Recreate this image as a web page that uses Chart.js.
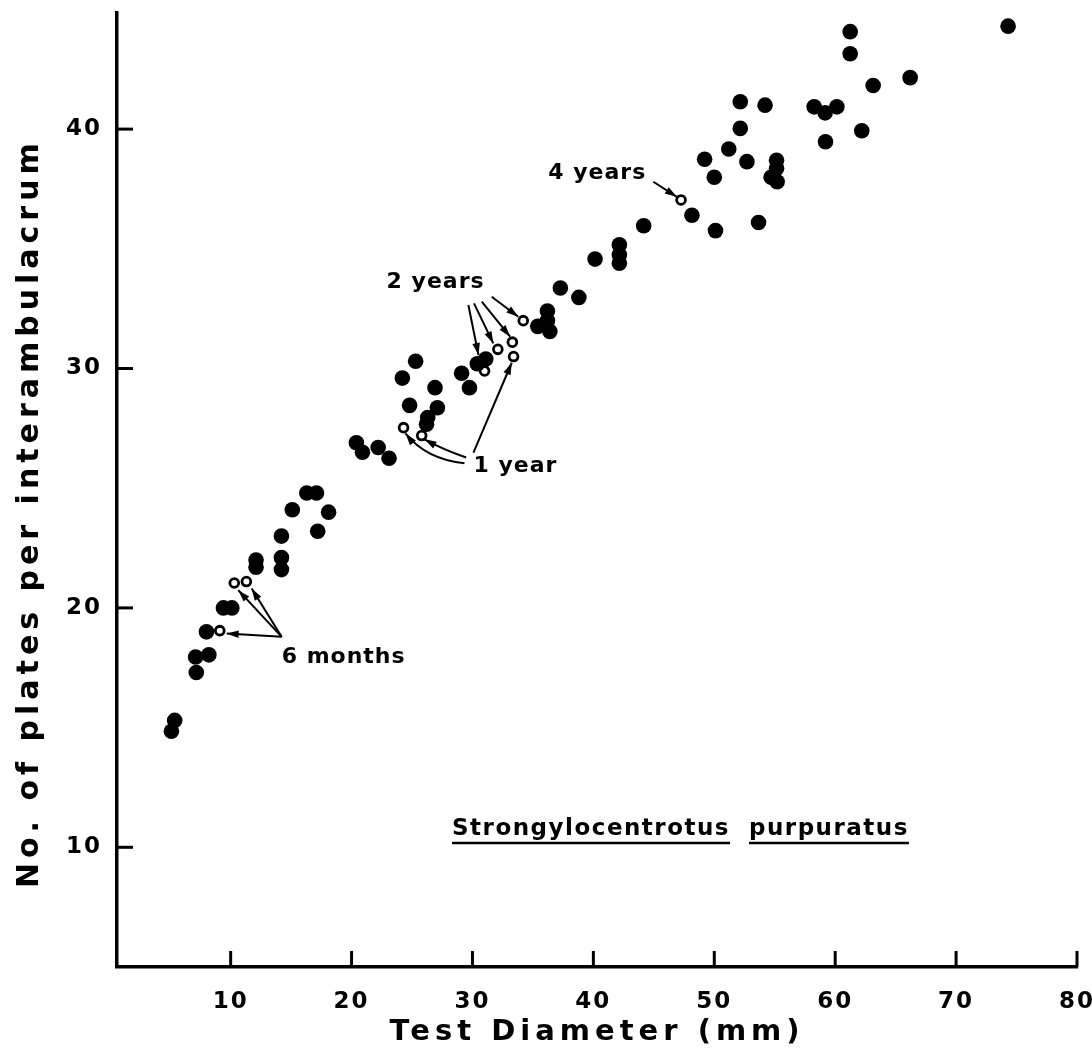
<!DOCTYPE html>
<html><head><meta charset="utf-8">
<script src="https://cdn.jsdelivr.net/npm/chart.js@4.4.1/dist/chart.umd.min.js"></script>
<style>html,body{margin:0;padding:0;background:#fff;}canvas{display:block;}</style>
</head><body>
<canvas id="c" width="1092" height="1060"></canvas>
<script>
// ---- data ----
const xTicks = [10, 20, 30, 40, 50, 60, 70, 80];
const yTicks = [10, 20, 30, 40];

const filledX = [5.1, 5.37, 7.1, 7.16, 8.2, 8.0, 9.4, 10.1, 12.1, 12.1, 14.2, 14.2, 14.2, 15.1, 16.3, 17.1, 17.2, 18.1,
  20.4, 20.9, 22.2, 23.1, 24.2, 24.8, 25.3, 26.9, 27.1, 26.3, 26.2, 29.1, 29.75, 30.4, 31.1,
  35.4, 36.2, 36.4, 36.2, 37.27, 38.8, 40.14, 42.15, 42.15, 42.15, 44.16, 48.15, 50.1, 53.66,
  49.2, 50.0, 51.2, 52.15, 54.2, 52.15, 52.7, 55.15, 55.15, 54.7, 55.2,
  58.26, 59.17, 60.14, 59.2, 62.2, 63.14, 66.2, 61.24, 61.24, 74.3];
const filledY = [14.85, 15.3, 17.95, 17.3, 18.04, 19.0, 20.0, 20.0, 22.0, 21.7, 22.1, 21.6, 23.0, 24.1, 24.8, 24.8, 23.2, 24.0,
  26.9, 26.5, 26.7, 26.25, 29.6, 28.46, 30.3, 29.2, 28.36, 27.95, 27.67, 29.8, 29.2, 30.2, 30.4,
  31.76, 32.4, 31.55, 32.0, 33.36, 32.97, 34.57, 35.17, 34.75, 34.4, 35.96, 36.4, 35.76, 36.1,
  38.74, 37.99, 39.17, 41.14, 41.0, 40.03, 38.64, 38.7, 38.36, 37.99, 37.8,
  40.93, 40.68, 40.93, 39.47, 39.93, 41.82, 42.15, 44.07, 43.15, 44.3];

const openX = [9.1, 10.3, 11.3, 24.3, 25.8, 33.4, 31.0, 32.1, 33.3, 34.2, 47.25];
const openY = [19.05, 21.04, 21.1, 27.53, 27.2, 30.5, 29.9, 30.8, 31.1, 32.0, 37.04];

// annotation labels (left edge / vertical middle, in data units)
const labelTexts = ['6 months', '1 year', '2 years', '4 years'];
const labelX = [14.22, 30.08, 22.9, 36.27];
const labelY = [17.95, 25.9, 33.62, 38.15];

// straight arrows (tail -> head), data units
const arrowX0 = [14.22, 14.22, 14.22, 30.08, 29.66, 30.13, 30.77, 31.59, 44.96];
const arrowY0 = [18.79, 18.79, 18.79, 26.49, 32.65, 32.72, 32.79, 33.0, 37.8];
const arrowX1 = [9.67, 10.63, 11.74, 33.25, 30.5, 31.72, 33.11, 33.79, 46.9];
const arrowY1 = [18.93, 20.74, 20.81, 30.24, 30.56, 31.05, 31.33, 32.16, 37.17];

// curved arrows (tail, control, head), data units
const curveX0 = [29.34, 29.48];
const curveY0 = [26.04, 26.28];
const curveCX = [26.17, 27.55];
const curveCY = [26.21, 26.62];
const curveX1 = [24.46, 26.03];
const curveY1 = [27.29, 27.04];

const speciesWords = ['Strongylocentrotus', 'purpuratus'];
const speciesX = [28.31, 52.87];
const speciesY = 10.76;

const FONT = "'DejaVu Sans', sans-serif";

const filledData = filledX.map((x, i) => ({x: x, y: filledY[i]}));
const openData = openX.map((x, i) => ({x: x, y: openY[i]}));

function arrowHead(ctx, fx, fy, tx, ty) {
  const ang = Math.atan2(ty - fy, tx - fx);
  const L = 12, W = 3.8;
  ctx.beginPath();
  ctx.moveTo(tx, ty);
  ctx.lineTo(tx - L * Math.cos(ang) + W * Math.sin(ang), ty - L * Math.sin(ang) - W * Math.cos(ang));
  ctx.lineTo(tx - L * Math.cos(ang) - W * Math.sin(ang), ty - L * Math.sin(ang) + W * Math.cos(ang));
  ctx.closePath();
  ctx.fill();
}

const spacingPlugin = {
  id: 'spacing',
  beforeDraw(chart) {
    Object.values(chart.scales).forEach(s => {
      if (s._wrapped) return;
      const t = s.drawTitle.bind(s);
      s.drawTitle = function () { const c = this.ctx; const p = c.letterSpacing; c.letterSpacing = '5px'; t(); c.letterSpacing = p; };
      const l = s.drawLabels.bind(s);
      s.drawLabels = function () { const c = this.ctx; const p = c.letterSpacing; c.letterSpacing = '2px'; l(); c.letterSpacing = p; };
      s._wrapped = true;
    });
  }
};

const tickPlugin = {
  id: 'inwardTicks',
  afterDraw(chart) {
    const ctx = chart.ctx, xs = chart.scales.x, ys = chart.scales.y;
    const ca = chart.chartArea;
    ctx.save();
    ctx.strokeStyle = '#000';
    ctx.lineWidth = 3;
    xs.ticks.forEach(t => {
      const px = xs.getPixelForValue(t.value);
      ctx.beginPath(); ctx.moveTo(px, ca.bottom); ctx.lineTo(px, ca.bottom - 16); ctx.stroke();
    });
    ys.ticks.forEach(t => {
      const py = ys.getPixelForValue(t.value);
      ctx.beginPath(); ctx.moveTo(ca.left, py); ctx.lineTo(ca.left + 16, py); ctx.stroke();
    });
    ctx.restore();
  }
};

const annotationPlugin = {
  id: 'annot',
  afterDatasetsDraw(chart) {
    const ctx = chart.ctx, xs = chart.scales.x, ys = chart.scales.y;
    const X = v => xs.getPixelForValue(v), Y = v => ys.getPixelForValue(v);
    ctx.save();
    ctx.strokeStyle = '#000';
    ctx.fillStyle = '#000';
    ctx.lineWidth = 2;
    for (let i = 0; i < arrowX0.length; i++) {
      const fx = X(arrowX0[i]), fy = Y(arrowY0[i]), tx = X(arrowX1[i]), ty = Y(arrowY1[i]);
      ctx.beginPath(); ctx.moveTo(fx, fy); ctx.lineTo(tx, ty); ctx.stroke();
      arrowHead(ctx, fx, fy, tx, ty);
    }
    for (let i = 0; i < curveX0.length; i++) {
      const fx = X(curveX0[i]), fy = Y(curveY0[i]), cx = X(curveCX[i]), cy = Y(curveCY[i]), tx = X(curveX1[i]), ty = Y(curveY1[i]);
      ctx.beginPath(); ctx.moveTo(fx, fy); ctx.quadraticCurveTo(cx, cy, tx, ty); ctx.stroke();
      arrowHead(ctx, cx, cy, tx, ty);
    }
    ctx.letterSpacing = '1px';
    ctx.font = 'bold 22px ' + FONT;
    ctx.textAlign = 'left';
    ctx.textBaseline = 'middle';
    labelTexts.forEach((s, i) => ctx.fillText(s, X(labelX[i]), Y(labelY[i])));
    ctx.font = 'bold 23px ' + FONT;
    ctx.letterSpacing = '1.5px';
    speciesWords.forEach((w, i) => {
      const x0 = X(speciesX[i]), y0 = Y(speciesY);
      ctx.fillText(w, x0, y0);
      const wdt = ctx.measureText(w).width;
      ctx.lineWidth = 2.5;
      ctx.beginPath(); ctx.moveTo(x0, y0 + 14); ctx.lineTo(x0 + wdt, y0 + 14); ctx.stroke();
    });
    ctx.restore();
  }
};

new Chart(document.getElementById('c'), {
  type: 'scatter',
  data: {
    datasets: [
      {data: filledData, pointRadius: 7.8, pointHoverRadius: 7.8, backgroundColor: '#000', borderColor: '#000', borderWidth: 0},
      {data: openData, pointRadius: 4.4, pointHoverRadius: 4.4, backgroundColor: '#fff', borderColor: '#000', borderWidth: 2.8}
    ]
  },
  options: {
    responsive: false,
    animation: false,
    events: [],
    layout: {padding: {top: 13, right: 15, left: 0, bottom: 0}},
    plugins: {legend: {display: false}, tooltip: {enabled: false}},
    scales: {
      x: {
        type: 'linear', min: 0.6, max: 80,
        afterBuildTicks: s => { s.ticks = xTicks.map(v => ({value: v})); },
        afterFit: s => { s.height = 93; s.paddingLeft = 0; s.paddingRight = 0; },
        grid: {display: false, drawTicks: false},
        border: {display: true, color: '#000', width: 3.5},
        ticks: {color: '#000', font: {family: FONT, size: 23, weight: 'bold'}, padding: 21, maxRotation: 0, autoSkip: false},
        title: {display: true, text: 'Test Diameter (mm)', color: '#000', font: {family: FONT, size: 29, weight: 'bold'}, padding: {top: 0, bottom: 10}}
      },
      y: {
        type: 'linear', min: 5, max: 44.85,
        afterBuildTicks: s => { s.ticks = yTicks.map(v => ({value: v})); },
        afterFit: s => { s.width = 117; s.paddingTop = 0; s.paddingBottom = 0; },
        grid: {display: false, drawTicks: false},
        border: {display: true, color: '#000', width: 3.5},
        ticks: {color: '#000', font: {family: FONT, size: 23, weight: 'bold'}, padding: 15, autoSkip: false},
        title: {display: true, text: 'No. of plates per interambulacrum   ', color: '#000', font: {family: FONT, size: 30, weight: 'bold'}, padding: {top: 12, bottom: 0}}
      }
    }
  },
  plugins: [spacingPlugin, tickPlugin, annotationPlugin]
});
</script>
</body></html>
